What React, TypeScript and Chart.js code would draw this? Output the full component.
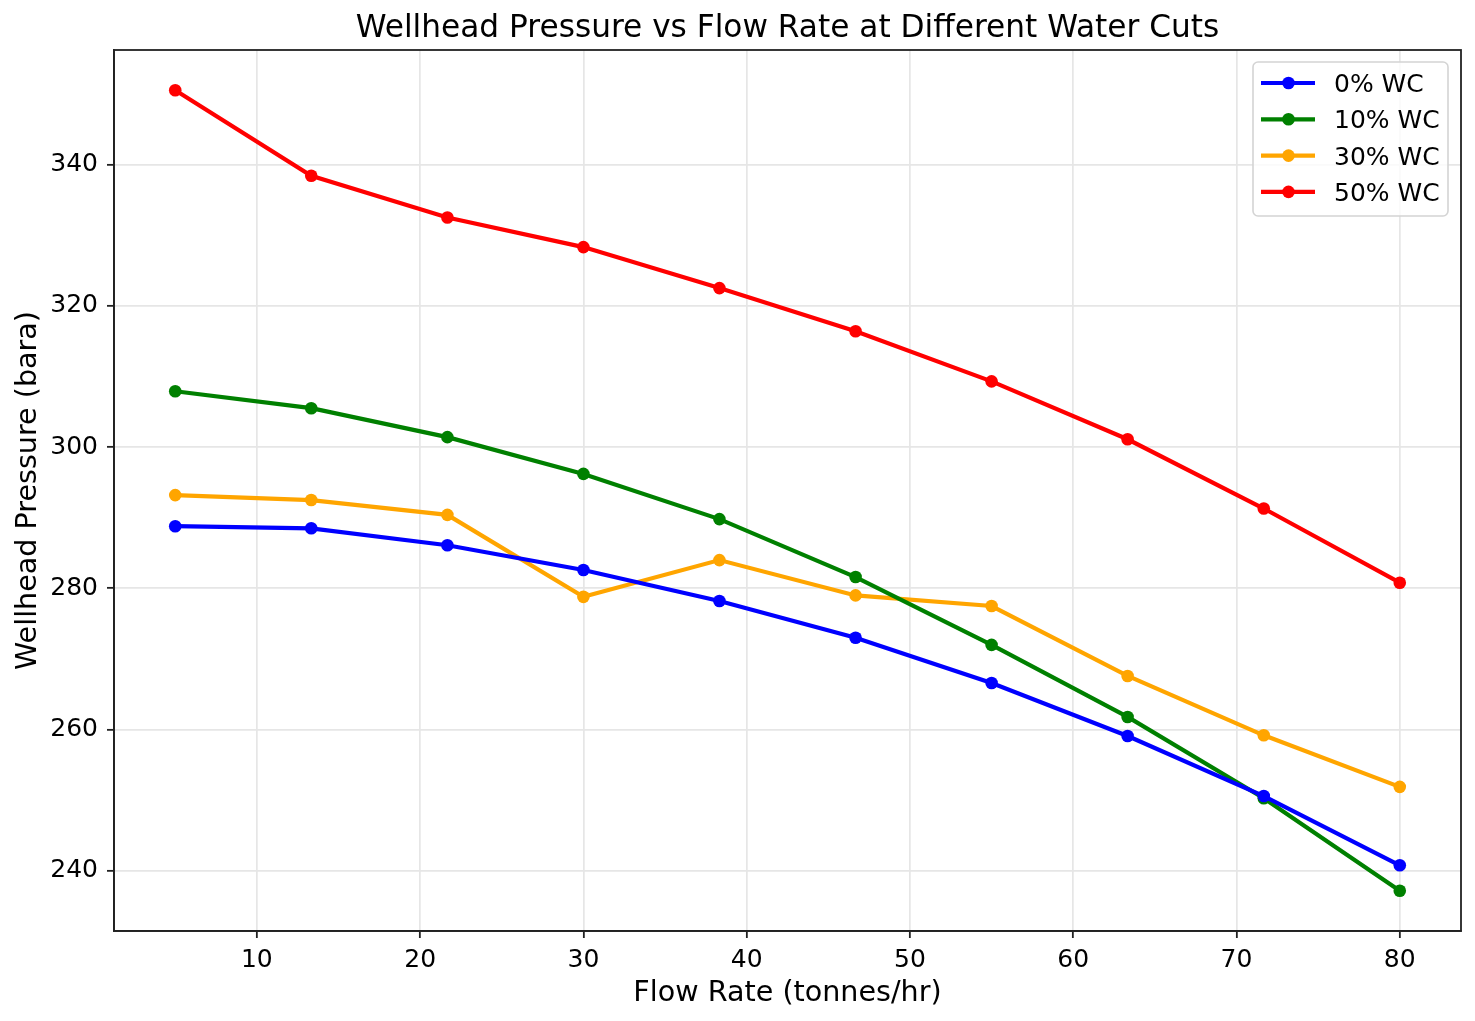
import React, { useEffect, useRef } from 'react';
import { Chart, registerables } from 'chart.js';

Chart.register(...registerables);

// ---- Data ----
const flowRate = [5, 13.33, 21.67, 30, 38.33, 46.67, 55, 63.33, 71.67, 80];
const wc0 = [288.8, 288.5, 286.1, 282.6, 278.2, 273.0, 266.6, 259.1, 250.6, 240.8];
const wc10 = [307.9, 305.5, 301.4, 296.2, 289.8, 281.6, 272.0, 261.8, 250.3, 237.2];
const wc30 = [293.2, 292.5, 290.4, 278.8, 284.0, 279.0, 277.5, 267.6, 259.2, 251.9];
const wc50 = [350.5, 338.4, 332.5, 328.3, 322.5, 316.4, 309.3, 301.1, 291.3, 280.8];
const seriesLabels = ['0% WC', '10% WC', '30% WC', '50% WC'];
const seriesColors = ['#0000ff', '#008000', '#ffa500', '#ff0000'];
const xTicks = [10, 20, 30, 40, 50, 60, 70, 80];
const yTicks = [240, 260, 280, 300, 320, 340];
const xRange = [1.25, 83.75];
const yRange = [231.5, 356.2];

const titleText = 'Wellhead Pressure vs Flow Rate at Different Water Cuts';
const xLabel = 'Flow Rate (tonnes/hr)';
const yLabel = 'Wellhead Pressure (bara)';

const FONT = "'DejaVu Sans', sans-serif";

const decorPlugin = {
  id: 'decor',
  afterDatasetsDraw(chart: any) {
    const { ctx, chartArea } = chart;
    ctx.save();
    // spines
    ctx.strokeStyle = '#222';
    ctx.lineWidth = 1.8;
    ctx.strokeRect(chartArea.left, chartArea.top, chartArea.right - chartArea.left, chartArea.bottom - chartArea.top);
    ctx.restore();
  },
  afterDraw(chart: any) {
    const { ctx, chartArea } = chart;
    ctx.save();
    const cx = (chartArea.left + chartArea.right) / 2;
    const cy = (chartArea.top + chartArea.bottom) / 2;
    ctx.fillStyle = '#000';
    ctx.textBaseline = 'alphabetic';
    ctx.textAlign = 'center';
    // title
    ctx.font = `31.2px ${FONT}`;
    ctx.fillText(titleText, cx, 37);
    // x label
    ctx.font = `28.6px ${FONT}`;
    ctx.fillText(xLabel, cx, 1001);
    // y label
    ctx.save();
    ctx.translate(36, cy);
    ctx.rotate(-Math.PI / 2);
    ctx.fillText(yLabel, 0, 0);
    ctx.restore();

    // legend
    const x0 = chartArea.right - 208;
    const y0 = chartArea.top + 12;
    const w = 195;
    const h = 154;
    ctx.beginPath();
    (ctx as any).roundRect(x0, y0, w, h, 5);
    ctx.fillStyle = 'rgba(255,255,255,0.8)';
    ctx.fill();
    ctx.strokeStyle = '#d4d4d4';
    ctx.lineWidth = 1.6;
    ctx.stroke();
    chart.data.datasets.forEach((ds: any, i: number) => {
      const ry = y0 + 21 + i * 36.3;
      ctx.strokeStyle = ds.borderColor;
      ctx.lineWidth = 4.2;
      ctx.beginPath();
      ctx.moveTo(x0 + 8, ry);
      ctx.lineTo(x0 + 62, ry);
      ctx.stroke();
      ctx.fillStyle = ds.borderColor;
      ctx.beginPath();
      ctx.arc(x0 + 35.5, ry, 6.3, 0, Math.PI * 2);
      ctx.fill();
      ctx.fillStyle = '#000';
      ctx.font = `25px ${FONT}`;
      ctx.textAlign = 'left';
      ctx.fillText(ds.label, x0 + 81, ry + 9);
    });
    ctx.restore();
  },
};

export default function App() {
  const canvasRef = useRef<HTMLCanvasElement | null>(null);

  useEffect(() => {
    const canvas = canvasRef.current;
    if (!canvas) return;
    const seriesValues = [wc0, wc10, wc30, wc50];
    const chart = new Chart(canvas, {
      type: 'line',
      data: {
        datasets: seriesValues.map((vals, i) => ({
          label: seriesLabels[i],
          data: flowRate.map((x, j) => ({ x, y: vals[j] })),
          borderColor: seriesColors[i],
          backgroundColor: seriesColors[i],
          pointBackgroundColor: seriesColors[i],
          pointBorderWidth: 0,
          pointRadius: 6.3,
          borderWidth: 4.2,
          tension: 0,
          fill: false,
        })),
      },
      options: {
        animation: false,
        responsive: false,
        devicePixelRatio: 1,
        layout: { padding: { top: 50, right: 14, left: 0, bottom: 0 } },
        plugins: {
          legend: { display: false },
          title: { display: false },
          tooltip: { enabled: false },
        },
        scales: {
          x: {
            type: 'linear',
            min: xRange[0],
            max: xRange[1],
            afterBuildTicks: (scale: any) => {
              scale.ticks = xTicks.map((v) => ({ value: v }));
            },
            afterFit: (scale: any) => {
              scale.height = 90;
            },
            ticks: {
              color: '#000',
              font: { family: FONT, size: 25 },
              padding: 7,
              maxRotation: 0,
              autoSkip: false,
            },
            grid: {
              color: '#e6e6e6',
              lineWidth: 1.7,
              tickColor: '#222',
              tickWidth: 1.8,
              tickLength: 7,
            },
            border: { display: true, color: '#222', width: 1.8 },
          },
          y: {
            type: 'linear',
            min: yRange[0],
            max: yRange[1],
            afterBuildTicks: (scale: any) => {
              scale.ticks = yTicks.map((v) => ({ value: v }));
            },
            afterFit: (scale: any) => {
              scale.width = 114;
            },
            ticks: {
              color: '#000',
              font: { family: FONT, size: 25 },
              padding: 9,
              autoSkip: false,
            },
            grid: {
              color: '#e6e6e6',
              lineWidth: 1.7,
              tickColor: '#222',
              tickWidth: 1.8,
              tickLength: 7,
            },
            border: { display: true, color: '#222', width: 1.8 },
          },
        },
      },
      plugins: [decorPlugin],
    } as any);
    return () => chart.destroy();
  }, []);

  return (
    <div style={{ position: 'absolute', left: 0, top: 0, width: 1475, height: 1021, background: '#fff' }}>
      <canvas ref={canvasRef} width={1475} height={1021} />
    </div>
  );
}
